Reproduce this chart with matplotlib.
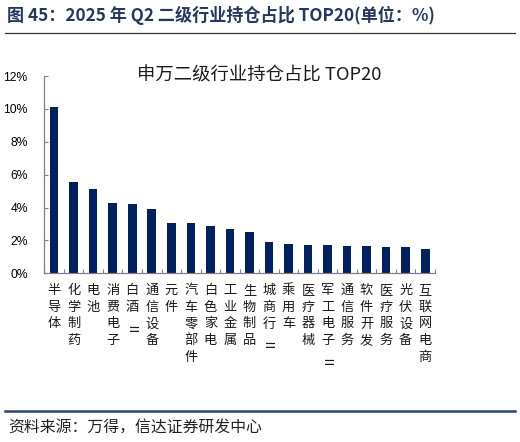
import matplotlib
matplotlib.use("Agg")
import matplotlib.pyplot as plt
from matplotlib.lines import Line2D

plt.rcParams['font.family'] = ['Noto Sans CJK SC', 'DejaVu Sans']

categories = ["半导体", "化学制药", "电池", "消费电子", "白酒Ⅱ", "通信设备", "元件",
              "汽车零部件", "白色家电", "工业金属", "生物制品", "城商行Ⅱ", "乘用车",
              "医疗器械", "军工电子Ⅱ", "通信服务", "软件开发", "医疗服务", "光伏设备",
              "互联网电商"]
values = [10.1, 5.58, 5.12, 4.27, 4.2, 3.9, 3.08, 3.05, 2.86, 2.7, 2.5,
          1.9, 1.77, 1.72, 1.71, 1.69, 1.67, 1.58, 1.58, 1.46]
yticks = [0, 2, 4, 6, 8, 10, 12]
ytick_labels = ["0%", "2%", "4%", "6%", "8%", "10%", "12%"]

fig = plt.figure(figsize=(5.2, 4.42), dpi=100)
ax = fig.add_axes([0.0852, 0.3817, 0.7513, 0.4462])

x = list(range(len(categories)))
ax.bar(x, values, width=0.44, color='#002060', zorder=2)
ax.set_xlim(-0.5, len(categories) - 0.5)
ax.set_ylim(0, 12)

for s in ['top', 'right']:
    ax.spines[s].set_visible(False)
for s in ['left', 'bottom']:
    ax.spines[s].set_color('#808080')
    ax.spines[s].set_linewidth(0.9)

ax.set_yticks(yticks)
ax.set_yticklabels(ytick_labels, fontfamily='Liberation Sans', fontsize=8.7)
ax.tick_params(axis='y', direction='in', length=3, color='#808080', pad=12)
ax.set_xticks([i - 0.5 for i in range(len(categories) + 1)])
ax.set_xticklabels([])
ax.tick_params(axis='x', direction='in', length=3, color='#808080')

# vertical stacked category labels
for i, lab in enumerate(categories):
    for k, ch in enumerate(lab):
        rot = 90 if ch == 'Ⅱ' else 0
        ax.annotate(ch, xy=(i, 0), xycoords=('data', 'axes fraction'),
                    xytext=(0, -12.5 - 12.0 * k), textcoords='offset points',
                    ha='center', va='center', fontsize=9.5, rotation=rot,
                    color='#1a1a1a', annotation_clip=False)

# chart title
fig.text(259 / 520, 1 - 76 / 442, "申万二级行业持仓占比 TOP20", ha='center', va='center',
         fontsize=13.2, color='#1a1a1a')

# header
fig.text(7 / 520, 1 - 15 / 442, "图 45：2025 年 Q2 二级行业持仓占比 TOP20(单位：%)",
         ha='left', va='center', fontsize=12.3, fontweight='bold', color='#24375f')
fig.add_artist(Line2D([5 / 520, 515 / 520], [1 - 33 / 442, 1 - 33 / 442],
                      transform=fig.transFigure, color='#333333', linewidth=0.9))

# footer
fig.add_artist(Line2D([5 / 520, 515 / 520], [1 - 411 / 442, 1 - 411 / 442],
                      transform=fig.transFigure, color='#2b4478', linewidth=1.8))
fig.text(8 / 520, 1 - 427 / 442, "资料来源：万得，信达证券研发中心", ha='left', va='center',
         fontsize=11.4, color='#222222')

fig.savefig("out.png", dpi=100)
